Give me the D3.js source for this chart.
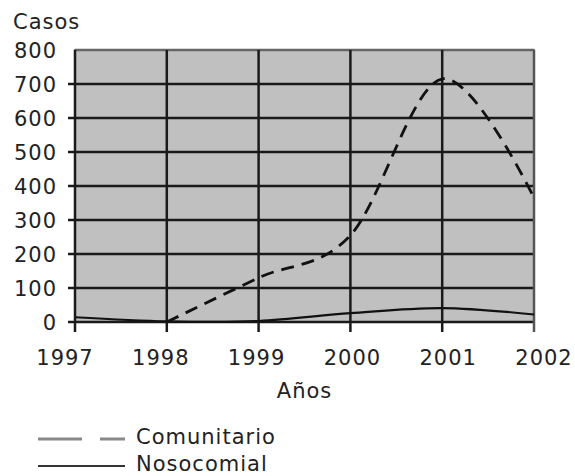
<!DOCTYPE html>
<html>
<head>
<meta charset="utf-8">
<script src="https://cdn.jsdelivr.net/npm/d3@7"></script>
<style>
  body { margin: 0; background: #fff; }
  text { font-family: "DejaVu Sans", Verdana, sans-serif; font-size: 21px; fill: #222; letter-spacing: 1px; }
</style>
</head>
<body>
<svg id="chart" width="575" height="476"></svg>
<script>
// data
var years = [1997, 1998, 1999, 2000, 2001, 2002];
var comunitario = [null, 0, 130, 255, 715, 365];
var nosocomial = [14, 2, 3, 26, 41, 22];
var yTicks = [0, 100, 200, 300, 400, 500, 600, 700, 800];

var svg = d3.select("#chart");
var plotL = 75, plotR = 534, plotT = 50, plotB = 322;

var x = d3.scaleLinear().domain([1997, 2002]).range([plotL, plotR]);
var y = d3.scaleLinear().domain([0, 800]).range([plotB, plotT]);

// plot background
svg.append("rect")
  .attr("x", plotL).attr("y", plotT)
  .attr("width", plotR - plotL).attr("height", plotB - plotT)
  .attr("fill", "#c0c0c0")
  .attr("stroke", "#777")
  .attr("stroke-width", 2);

// grid lines
svg.append("g").selectAll("line")
  .data(yTicks)
  .enter()
  .append("line")
  .attr("x1", d => d == 800 ? plotL : plotL - 7).attr("x2", plotR)
  .attr("y1", d => y(d)).attr("y2", d => y(d))
  .attr("stroke", d => d == 800 ? "#666" : "#1a1a1a")
  .attr("stroke-width", 2.5);

svg.append("g").selectAll("line")
  .data(years)
  .enter()
  .append("line")
  .attr("x1", d => x(d)).attr("x2", d => x(d))
  .attr("y1", plotT).attr("y2", plotB + 10)
  .attr("stroke", d => d == 2002 ? "#555" : "#1a1a1a")
  .attr("stroke-width", 2.5);

// axis labels
svg.append("g").selectAll("text")
  .data(yTicks)
  .enter()
  .append("text")
  .attr("x", 57)
  .attr("y", d => y(d))
  .attr("dy", "0.36em")
  .attr("text-anchor", "end")
  .text(d => d);

svg.append("g").selectAll("text")
  .data(years)
  .enter()
  .append("text")
  .attr("x", d => x(d) + (d - 1999.5) * 4)
  .attr("y", 365)
  .attr("text-anchor", "middle")
  .text(d => d);

svg.append("text").attr("x", 13).attr("y", 29).text("Casos");
svg.append("text").attr("x", (plotL + plotR) / 2).attr("y", 398)
  .attr("text-anchor", "middle").text("Años");

// series
var pts = function(vals) {
  return years.map((yr, i) => [yr, vals[i]]).filter(d => d[1] !== null);
};
var line = d3.line()
  .x(d => x(d[0]))
  .y(d => y(d[1]))
  .curve(d3.curveCatmullRom.alpha(0));

svg.append("path")
  .datum(pts(nosocomial))
  .attr("d", line)
  .attr("fill", "none")
  .attr("stroke", "#111")
  .attr("stroke-width", 2.2);

svg.append("path")
  .datum(pts(comunitario))
  .attr("d", line)
  .attr("fill", "none")
  .attr("stroke", "#111")
  .attr("stroke-width", 2.8)
  .attr("stroke-dasharray", "13,8");

// legend
var legend = [
  {name: "Comunitario", color: "#888", dash: "44,18", w: 3},
  {name: "Nosocomial", color: "#333", dash: null, w: 1.8}
];
var lg = svg.append("g").selectAll("g")
  .data(legend)
  .enter()
  .append("g")
  .attr("transform", (d, i) => "translate(0," + (439 + i * 27) + ")");
lg.append("line")
  .attr("x1", 38).attr("x2", 125)
  .attr("stroke", d => d.color)
  .attr("stroke-width", d => d.w)
  .attr("stroke-dasharray", d => d.dash);
lg.append("text")
  .attr("x", 136).attr("y", 5)
  .text(d => d.name);
</script>
</body>
</html>
